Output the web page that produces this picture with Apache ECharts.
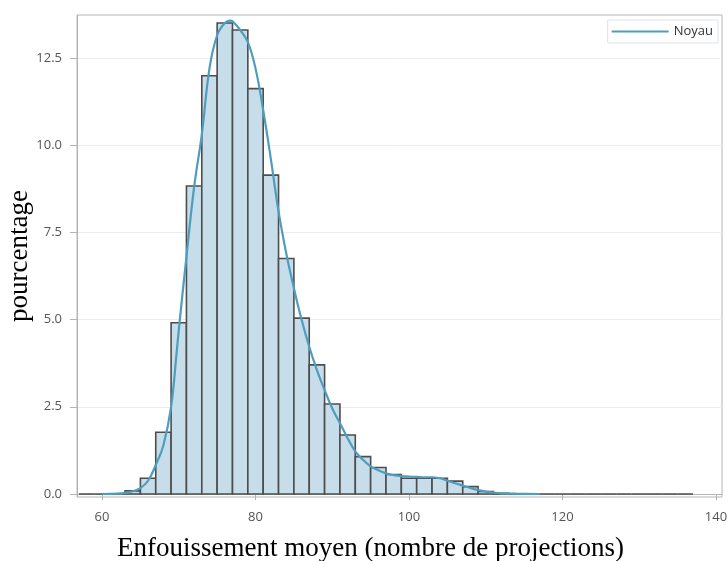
<!DOCTYPE html>
<html>
<head>
<meta charset="utf-8">
<script src="https://cdn.jsdelivr.net/npm/echarts@6/dist/echarts.min.js"></script>
<style>html,body{margin:0;padding:0;background:#fff}#c{width:728px;height:561px}</style>
</head>
<body>
<div id="c"></div>
<script>
// Histogram bins (centre of each 2-unit bin) and their percentages
var binCenters = [58,60,62,64,66,68,70,72,74,76,78,80,82,84,86,88,90,92,94,96,98,100,102,104,106,108,110,112,114,116,118,120,122,124,126,128,130,132,134,136];
var binPercent = [0,0,0,0.09,0.45,1.77,4.91,8.83,11.99,13.5,13.3,11.62,9.14,6.75,5.04,3.70,2.58,1.69,1.07,0.76,0.56,0.45,0.45,0.45,0.37,0.21,0.07,0.02,0,0,0,0,0,0,0,0,0,0,0,0];
var binWidth = 2;

// Kernel density curve ("Noyau")
var kernelX = [60,62,63,64,65,66,67,68,69,69.7,70,71,72,73,74,75,76,76.7,77,78,79,80,81,82,83,84,85,86,87,88,89,90,91,92,93,94,95,96,97,98,99,100,101,102,103,104,105,106,107,108,109,110,111,112,114,117];
var kernelY = [0,0.01,0.03,0.08,0.17,0.38,0.83,1.4,2.5,4.0,4.7,6.8,8.8,10.3,12.2,13.15,13.5,13.57,13.55,13.3,12.95,12.2,11.0,9.6,8.1,6.9,5.9,5.0,4.22,3.55,2.98,2.45,2.03,1.6,1.22,0.98,0.79,0.68,0.59,0.54,0.51,0.5,0.49,0.48,0.48,0.45,0.38,0.31,0.24,0.17,0.11,0.07,0.04,0.02,0.01,0];

var xTicks = [60,80,100,120,140];
var yTicks = [0,2.5,5,7.5,10,12.5];

var barData = binCenters.map(function(c, i){ return [c - binWidth/2, c + binWidth/2, binPercent[i]]; });
var curveData = kernelX.map(function(x, i){ return [x, kernelY[i]]; });

var chart = echarts.init(document.getElementById('c'), null, {renderer:'canvas'});
var labelFont = {color:'#555', fontSize:13, fontFamily:'Open Sans, sans-serif'};
chart.setOption({
  animation:false,
  backgroundColor:'#fff',
  grid:{left:77, right:6, top:15, bottom:64, show:true, borderColor:'#b4b4b4', borderWidth:1, containLabel:false, outerBoundsMode:'none'},
  legend:{
    data:[{name:'Noyau', icon:'rect'}], right:10, top:20, orient:'horizontal',
    itemWidth:57, itemHeight:2, itemGap:5,
    padding:[5,5,5,4], borderColor:'#dde3ea', borderWidth:1,
    textStyle:{color:'#333', fontSize:13, fontFamily:'Open Sans, sans-serif'}
  },
  xAxis:{
    type:'value', min:56.74, max:140.78,
    name:'Enfouissement moyen (nombre de projections)', nameLocation:'middle', nameGap:38, nameMoveOverlap:false,
    nameTextStyle:{fontFamily:'Liberation Serif, Times New Roman, serif', fontSize:27, color:'#000', padding:[0,58,0,0]},
    axisLine:{show:true, lineStyle:{color:'#b4b4b4'}},
    axisTick:{show:true, length:6, customValues:xTicks, lineStyle:{color:'#b4b4b4'}},
    axisLabel:Object.assign({margin:14, customValues:xTicks}, labelFont),
    splitLine:{show:false}
  },
  yAxis:{
    type:'value', min:-0.086, max:13.73,
    name:'pourcentage', nameLocation:'middle', nameGap:44, nameMoveOverlap:false,
    nameTextStyle:{fontFamily:'Liberation Serif, Times New Roman, serif', fontSize:27, color:'#000'},
    axisLine:{show:true, lineStyle:{color:'#b4b4b4'}},
    axisTick:{show:true, length:7, customValues:yTicks, lineStyle:{color:'#b4b4b4'}},
    axisLabel:Object.assign({margin:15, customValues:yTicks, formatter:function(v){return v.toFixed(1);}}, labelFont),
    splitLine:{show:true, lineStyle:{color:'#ececec'}}
  },
  series:[
    {
      type:'custom', name:'Histogramme', z:2,
      encode:{x:[0,1], y:2},
      data:barData,
      renderItem:function(params, api){
        var p0 = api.coord([api.value(0), api.value(2)]);
        var p1 = api.coord([api.value(1), 0]);
        return {type:'rect', shape:{x:p0[0], y:p0[1], width:p1[0]-p0[0], height:p1[1]-p0[1]},
          style:{fill:'#c7dde9', stroke:'#4d4d4d', lineWidth:1.6}};
      }
    },
    {
      type:'line', name:'Noyau', z:3, data:curveData, smooth:0.4, showSymbol:false, symbol:'none',
      lineStyle:{color:'#4f9dbd', width:2.2}, itemStyle:{color:'#4f9dbd'}
    }
  ]
});
</script>
</body>
</html>
